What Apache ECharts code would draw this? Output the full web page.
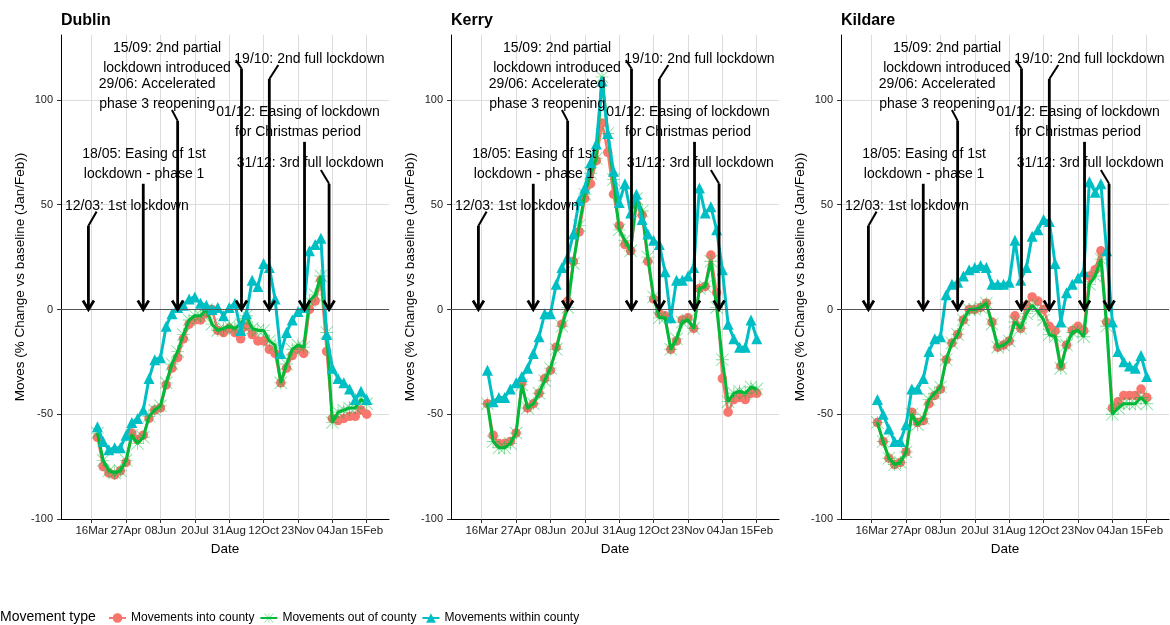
<!DOCTYPE html>
<html><head><meta charset="utf-8">
<script src="https://cdn.jsdelivr.net/npm/echarts@6/dist/echarts.min.js"></script>
<style>html,body{margin:0;padding:0;background:#fff}#c{width:1170px;height:625px}</style>
</head><body><div id="c"></div>
<script>
// ---------- data ----------
const weekDates = ['2020-03-23','2020-03-30','2020-04-06','2020-04-13','2020-04-20','2020-04-27','2020-05-04','2020-05-11','2020-05-18','2020-05-25','2020-06-01','2020-06-08','2020-06-15','2020-06-22','2020-06-29','2020-07-06','2020-07-13','2020-07-20','2020-07-27','2020-08-03','2020-08-10','2020-08-17','2020-08-24','2020-08-31','2020-09-07','2020-09-14','2020-09-21','2020-09-28','2020-10-05','2020-10-12','2020-10-19','2020-10-26','2020-11-02','2020-11-09','2020-11-16','2020-11-23','2020-11-30','2020-12-07','2020-12-14','2020-12-21','2020-12-28','2021-01-04','2021-01-11','2021-01-18','2021-01-25','2021-02-01','2021-02-08','2021-02-15'];
const tickDates = ['2020-03-16','2020-04-27','2020-06-08','2020-07-20','2020-08-31','2020-10-12','2020-11-23','2021-01-04','2021-02-15'];
const tickLabels = ['16Mar','27Apr','08Jun','20Jul','31Aug','12Oct','23Nov','04Jan','15Feb'];
const yTicks = [-100,-50,0,50,100];
const counties = ['Dublin','Kerry','Kildare'];
const seriesNames = ['Movements into county','Movements out of county','Movements within county'];

const dublinInto   = [-61,-75,-78,-79,-77,-73,-59,-62,-60,-52,-48,-47,-36,-28,-23,-14,-7,-5,-5,-2,0,-10,-11,-9,-11,-14,-8,-12,-15,-15,-19,-21,-35,-28,-22,-19,-21,0,4,14,-20,-52,-53,-52,-51,-51,-48,-50];
const dublinOut    = [-59,-72,-77,-78,-77,-72,-60,-64,-61,-51,-48,-46,-35,-26,-20,-12,-5,-3,-3,0,-7,-10,-9,-8,-9,-7,-3,-9,-10,-10,-15,-17,-35,-26,-19,-17,-18,4,7,16,-11,-54,-49,-48,-47,-47,-43,-45];
const dublinWithin = [-56,-63,-67,-66,-66,-60,-54,-52,-48,-33,-24,-23,-8,-2,1,2,5,6,3,2,0,1,-3,1,3,-10,-2,14,11,22,20,5,-21,-11,-5,-1,1,28,31,34,-12,-28,-33,-35,-38,-43,-39,-43];

const kerryInto    = [-45,-60,-64,-64,-63,-59,-35,-47,-45,-40,-33,-29,-18,-7,4,23,37,53,60,71,89,75,55,40,31,28,50,45,23,5,-2,-3,-19,-15,-5,-4,-9,10,11,26,8,-33,-49,-43,-42,-43,-40,-40];
const kerryOut     = [-45,-63,-66,-66,-64,-59,-36,-47,-45,-40,-34,-28,-19,-8,1,22,40,55,65,72,111,84,62,38,33,28,53,47,25,6,-4,-4,-19,-14,-6,-5,-9,10,11,23,1,-24,-44,-40,-39,-40,-37,-38];
const kerryWithin  = [-29,-44,-42,-42,-38,-35,-32,-28,-21,-13,-2,-2,12,20,25,36,52,58,70,79,109,84,66,51,60,46,55,43,36,33,31,18,-4,14,14,16,20,58,46,49,38,19,-7,-14,-18,-18,-5,-14];

const kildareInto   = [-54,-63,-71,-74,-73,-68,-49,-54,-53,-45,-41,-38,-24,-16,-12,-5,0,0,1,3,-6,-18,-17,-15,-3,-9,2,6,4,0,-8,-10,-27,-17,-10,-8,-10,16,19,28,-6,-47,-44,-41,-41,-41,-38,-42];
const kildareOut    = [-54,-63,-71,-74,-73,-68,-50,-55,-52,-43,-40,-37,-24,-16,-12,-5,0,0,1,3,-7,-18,-17,-15,-6,-9,-2,2,-1,-5,-12,-13,-28,-17,-11,-10,-13,12,16,24,-8,-50,-47,-45,-45,-45,-42,-45];
const kildareWithin = [-43,-50,-57,-63,-63,-55,-38,-38,-33,-20,-14,-13,7,12,13,16,19,20,21,20,12,12,12,13,33,14,20,35,38,43,42,22,-6,8,12,15,18,61,56,60,28,-6,-20,-25,-27,-28,-22,-32];

// annotations (event date, arrow top value, label text, label anchor, optional connector end)
const annoDates       = ['2020-03-12','2020-05-18','2020-06-29','2020-09-15','2020-10-19','2020-12-01','2020-12-31'];
const annoTops        = [40,60,90,115,110,80,60];
const annoTexts       = ['12/03: 1st lockdown','18/05: Easing of 1st\nlockdown - phase 1','29/06: Accelerated\nphase 3 reopening','15/09: 2nd partial\nlockdown introduced','19/10: 2nd full lockdown','01/12: Easing of lockdown\nfor Christmas period','31/12: 3rd full lockdown'];
const annoLabelDates  = ['2020-04-28','2020-05-19','2020-06-04','2020-06-16','2020-12-07','2020-11-23','2020-12-08'];
const annoLabelValues = [49.5,69.5,103,120,119.6,89.3,70];
const annoLinkDates   = ['2020-03-22',null,'2020-06-22','2020-09-08','2020-10-30',null,'2020-12-21'];
const annoLinkValues  = [46.7,null,95.2,119,116.7,null,66.6];

// ---------- build ----------
const ORIGIN = Date.UTC(2020,2,16);
function day(s){ const p=s.split('-').map(Number); return (Date.UTC(p[0],p[1]-1,p[2])-ORIGIN)/86400000; }
const weekDays = weekDates.map(day);
const tickDays = tickDates.map(day);
const panelData = [
  [dublinInto, dublinOut, dublinWithin],
  [kerryInto, kerryOut, kerryWithin],
  [kildareInto, kildareOut, kildareWithin]
];
const FONT = '"Liberation Sans", Arial, sans-serif';
const colors = ['#F8766D','#00BA38','#00BFC4'];
const asterisk = 'path://M0 11.2L24 11.2L24 12.8L0 12.8Z M11.2 0L12.8 0L12.8 24L11.2 24Z M1.1 0L24 22.9L22.9 24L0 1.1Z M22.9 0L24 1.1L1.1 24L0 22.9Z';
const symbols = ['circle', asterisk, 'triangle'];
const symbolSizes = [9.5, 13, 11];
const lineWidths = [2.5, 3, 3];

const panelLeft = [61, 451, 841];
const grids = [], xAxes = [], yAxes = [], titles = [], series = [];
counties.forEach((name, i) => {
  grids.push({left: panelLeft[i], top: 35, width: 328, height: 484});
  titles.push({text: name, left: panelLeft[i], top: 13, padding: 0,
    textStyle: {fontSize: 16, fontWeight: 'bold', color: '#000', fontFamily: FONT}});
  xAxes.push({type: 'value', gridIndex: i, min: -37.5, max: 363.2,
    name: 'Date', nameLocation: 'middle', nameGap: 20,
    nameTextStyle: {fontSize: 13.5, color: '#000', fontFamily: FONT},
    axisLine: {onZero: false, lineStyle: {color: '#000', width: 1}},
    axisTick: {customValues: tickDays, length: 4, lineStyle: {color: '#333'}},
    axisLabel: {customValues: tickDays, margin: 6, fontSize: 11.5, color: '#222', fontFamily: FONT,
      formatter: v => tickLabels[tickDays.indexOf(v)] || ''},
    splitLine: {show: true, lineStyle: {color: '#dcdcdc', width: 1}}
  });
  yAxes.push({type: 'value', gridIndex: i, min: -100, max: 131,
    name: 'Moves (% Change vs baseline (Jan/Feb))', nameLocation: 'middle', nameGap: 34,
    nameTextStyle: {fontSize: 13.5, color: '#000', fontFamily: FONT},
    axisLine: {show: true, onZero: false, lineStyle: {color: '#000', width: 1}},
    axisTick: {show: true, customValues: yTicks, length: 4, lineStyle: {color: '#333'}},
    axisLabel: {customValues: yTicks, margin: 8, fontSize: 11, color: '#222', fontFamily: FONT},
    splitLine: {show: true, lineStyle: {color: '#dcdcdc', width: 1}}
  });
  // zero reference line
  series.push({type: 'line', xAxisIndex: i, yAxisIndex: i, data: [], z: 1, silent: true,
    markLine: {silent: true, symbol: 'none', label: {show: false},
      lineStyle: {color: '#555', width: 1.1, type: 'solid'}, data: [{yAxis: 0}]}});
  panelData[i].forEach((vals, s) => {
    series.push({
      name: seriesNames[s], type: 'line', xAxisIndex: i, yAxisIndex: i, z: 2 + s,
      data: vals.map((v, k) => [weekDays[k], v]),
      symbol: symbols[s], symbolSize: symbolSizes[s], showSymbol: true, animation: false,
      lineStyle: {color: colors[s], width: lineWidths[s]},
      itemStyle: {color: s === 1 ? 'rgba(0,186,56,0.5)' : colors[s], borderWidth: 0},
      emphasis: {disabled: true}
    });
  });
  series.push({
    type: 'custom', xAxisIndex: i, yAxisIndex: i, z: 10, silent: true, clip: false, animation: false,
    data: annoDates.map((d, j) => [day(d), annoTops[j], j]),
    renderItem: (params, api) => {
      const j = api.value(2);
      const base = api.coord([api.value(0), 0]);
      const top = api.coord([api.value(0), api.value(1)]);
      const lab = api.coord([day(annoLabelDates[j]), annoLabelValues[j]]);
      const children = [
        {type: 'line', shape: {x1: base[0], y1: top[1], x2: base[0], y2: base[1] - 1},
          style: {stroke: '#000', lineWidth: 2.8}},
        {type: 'polyline', shape: {points: [[base[0] - 5.5, base[1] - 9], [base[0], base[1]], [base[0] + 5.5, base[1] - 9]]},
          style: {stroke: '#000', lineWidth: 2.8, fill: 'none'}},
        {type: 'text', style: {text: annoTexts[j], x: lab[0], y: lab[1], align: 'center', verticalAlign: 'middle',
          font: '14px "Liberation Sans", Arial, sans-serif', fill: '#000', lineHeight: 20}}
      ];
      if (annoLinkDates[j]) {
        const lk = api.coord([day(annoLinkDates[j]), annoLinkValues[j]]);
        children.push({type: 'line', shape: {x1: top[0], y1: top[1], x2: lk[0], y2: lk[1]},
          style: {stroke: '#000', lineWidth: 2}});
      }
      return {type: 'group', children};
    }
  });
});

const chart = echarts.init(document.getElementById('c'), null, {renderer: 'canvas'});
chart.setOption({
  backgroundColor: '#fff',
  animation: false,
  textStyle: {fontFamily: FONT},
  title: titles,
  grid: grids,
  xAxis: xAxes,
  yAxis: yAxes,
  legend: {data: seriesNames, left: 108, top: 612, padding: 0, itemWidth: 17, itemHeight: 12, itemGap: 5,
    selectedMode: false, textStyle: {fontSize: 12, color: '#000', fontFamily: FONT}},
  graphic: [{type: 'text', left: 0, top: 610, style: {text: 'Movement type', fontSize: 14, fill: '#000', fontFamily: FONT}}],
  series: series
});
</script></body></html>
